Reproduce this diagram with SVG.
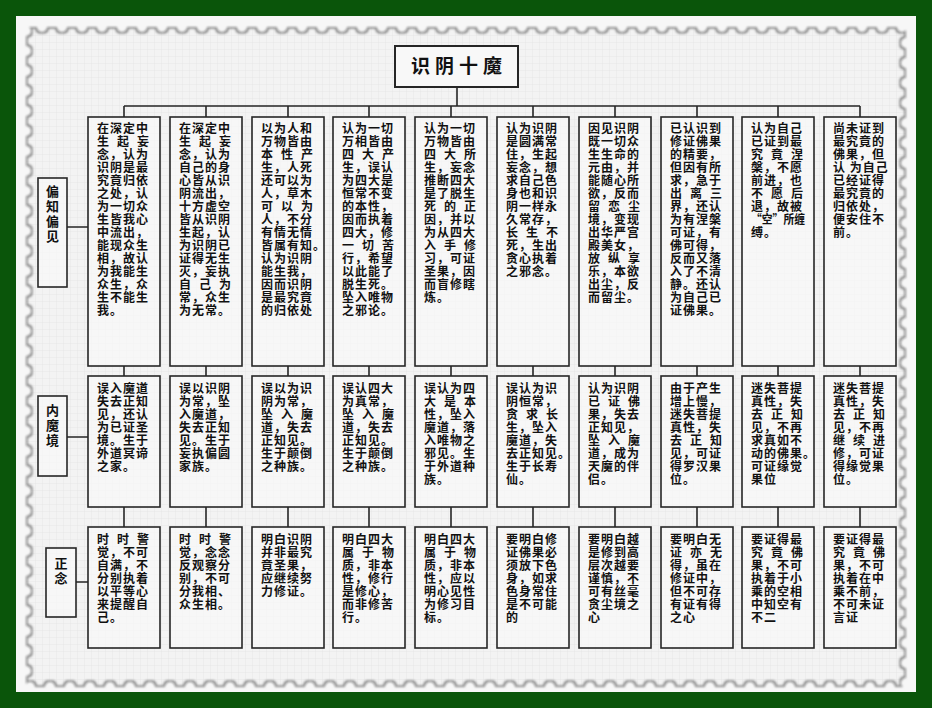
<svg xmlns="http://www.w3.org/2000/svg" width="932" height="708" viewBox="0 0 932 708">
<defs>
<pattern id="grid" width="7" height="7" patternUnits="userSpaceOnUse">
<rect width="7" height="7" fill="#f3f3f3"/>
<path d="M7 0H0V7" fill="none" stroke="#e1e1e1" stroke-width="0.7"/>
</pattern>
<mask id="notch" maskUnits="userSpaceOnUse" x="0" y="0" width="932" height="708">
<rect x="26" y="27" width="880" height="660" fill="#fff"/>
<rect x="26" y="27" width="880" height="660" fill="none" stroke="#000" stroke-width="10" stroke-linecap="round" stroke-dasharray="0 20" stroke-dashoffset="4"/>
</mask>
<filter id="edge" x="0" y="0" width="932" height="708" filterUnits="userSpaceOnUse">
<feMorphology in="SourceAlpha" operator="erode" radius="2" result="er"/>
<feComposite in="SourceAlpha" in2="er" operator="out" result="ring"/>
<feFlood flood-color="#8a8a8a"/>
<feComposite in2="ring" operator="in" result="gray"/>
<feGaussianBlur in="gray" stdDeviation="1" result="gb"/>
<feMerge><feMergeNode in="SourceGraphic"/><feMergeNode in="gb"/></feMerge>
</filter>
</defs>
<style>
.box{fill:#f8f8f8;fill-opacity:.7;stroke:#262626;stroke-width:1.6}
.ln{fill:none;stroke:#262626;stroke-width:1.6}
.t{font-family:"Noto Sans CJK SC","Noto Sans",sans-serif;font-size:12px;font-weight:700;fill:#111;letter-spacing:1px}
.s{letter-spacing:0}
.lb{font-family:"Noto Sans CJK SC","Noto Sans",sans-serif;font-size:13px;font-weight:700;fill:#111;text-anchor:middle}
</style>
<rect width="932" height="708" fill="#0a550a"/>
<rect x="16" y="16" width="900" height="676" fill="#f7f7f7"/>
<g filter="url(#edge)"><rect x="26" y="27" width="880" height="660" fill="url(#grid)" mask="url(#notch)"/></g>

<g id="connectors">
<path class="ln" d="M457 87V106M124 106H860M124 106V117M206 106V117M288 106V117M369 106V117M451 106V117M533 106V117M615 106V117M697 106V117M778 106V117M860 106V117"/>
<path class="ln" d="M124 366V376M206 366V376M288 366V376M369 366V376M451 366V376M533 366V376M615 366V376M697 366V376M778 366V376M860 366V376"/>
<path class="ln" d="M124 507V527M206 507V527M288 507V527M369 507V527M451 507V527M533 507V527M615 507V527M697 507V527M778 507V527M860 507V527"/>
<path class="ln" d="M67 227H88M67 437H88M76 582H88"/>
</g>

<g id="title">
<rect x="395" y="46" width="123" height="41" fill="#f8f8f8" stroke="#262626" stroke-width="2"/>
<text x="459" y="73" text-anchor="middle" font-family="'Noto Sans CJK SC',sans-serif" font-size="19" font-weight="700" letter-spacing="5" fill="#111">识阴十魔</text>
</g>

<g id="label-1">
<rect class="box" x="38" y="178" width="29" height="109"/>
<text class="lb"><tspan x="52.5" y="196">偏</tspan><tspan x="52.5" y="211">知</tspan><tspan x="52.5" y="226">偏</tspan><tspan x="52.5" y="241">见</tspan></text>
</g>
<g id="label-2">
<rect class="box" x="38" y="396" width="29" height="80"/>
<text class="lb"><tspan x="52.5" y="415">内</tspan><tspan x="52.5" y="430">魔</tspan><tspan x="52.5" y="445">境</tspan></text>
</g>
<g id="label-3">
<rect class="box" x="46" y="548" width="30" height="69"/>
<text class="lb"><tspan x="61" y="568">正</tspan><tspan x="61" y="583">念</tspan></text>
</g>

<!-- top row -->
<g id="c1-top"><rect class="box" x="88" y="117" width="72" height="249"/>
<text class="t"><tspan x="97" y="133">在深定中</tspan><tspan x="97" dy="13" class="s" textLength="52" lengthAdjust="spacing">生起妄</tspan><tspan x="97" dy="13">念，认为</tspan><tspan x="97" dy="13">识阴是最</tspan><tspan x="97" dy="13">究竟归依</tspan><tspan x="97" dy="13">之处，认</tspan><tspan x="97" dy="13">为一切众</tspan><tspan x="97" dy="13">生皆我心</tspan><tspan x="97" dy="13">中流出，</tspan><tspan x="97" dy="13">能现众生</tspan><tspan x="97" dy="13">相，故认</tspan><tspan x="97" dy="13">为我能生</tspan><tspan x="97" dy="13">众生，众</tspan><tspan x="97" dy="13">生不能生</tspan><tspan x="97" dy="13">我。</tspan></text></g>
<g id="c2-top"><rect class="box" x="170" y="117" width="72" height="249"/>
<text class="t"><tspan x="179" y="133">在深定中</tspan><tspan x="179" dy="13" class="s" textLength="52" lengthAdjust="spacing">生起妄</tspan><tspan x="179" dy="13">念，认为</tspan><tspan x="179" dy="13">自己的身</tspan><tspan x="179" dy="13">心皆从识</tspan><tspan x="179" dy="13">阴流出，</tspan><tspan x="179" dy="13">十方虚空</tspan><tspan x="179" dy="13">皆从识阴</tspan><tspan x="179" dy="13">生起，认</tspan><tspan x="179" dy="13">为识阴已</tspan><tspan x="179" dy="13">证得无生</tspan><tspan x="179" dy="13">灭，妄执</tspan><tspan x="179" dy="13" class="s" textLength="52" lengthAdjust="spacing">自己为</tspan><tspan x="179" dy="13">常，众生</tspan><tspan x="179" dy="13">为无常。</tspan></text></g>
<g id="c3-top"><rect class="box" x="252" y="117" width="72" height="249"/>
<text class="t"><tspan x="261" y="133">以为人和</tspan><tspan x="261" dy="13">万物皆由</tspan><tspan x="261" dy="13" class="s" textLength="52" lengthAdjust="spacing">本性产</tspan><tspan x="261" dy="13">生，人死</tspan><tspan x="261" dy="13">还可以为</tspan><tspan x="261" dy="13">人，草木</tspan><tspan x="261" dy="13" class="s" textLength="52" lengthAdjust="spacing">可以为</tspan><tspan x="261" dy="13">人，不分</tspan><tspan x="261" dy="13">有情无情</tspan><tspan x="261" dy="13">皆属有知。</tspan><tspan x="261" dy="13">认为识阴</tspan><tspan x="261" dy="13">能生我，</tspan><tspan x="261" dy="13">因而识阴</tspan><tspan x="261" dy="13">是最究竟</tspan><tspan x="261" dy="13">的归依处</tspan></text></g>
<g id="c4-top"><rect class="box" x="333" y="117" width="72" height="249"/>
<text class="t"><tspan x="342" y="133">认为一切</tspan><tspan x="342" dy="13">万相皆由</tspan><tspan x="342" dy="13" class="s" textLength="52" lengthAdjust="spacing">四大产</tspan><tspan x="342" dy="13">生，误认</tspan><tspan x="342" dy="13">为四大是</tspan><tspan x="342" dy="13">恒常不变</tspan><tspan x="342" dy="13">的本性，</tspan><tspan x="342" dy="13">因而执着</tspan><tspan x="342" dy="13">四大，修</tspan><tspan x="342" dy="13" class="s" textLength="52" lengthAdjust="spacing">一切苦</tspan><tspan x="342" dy="13">行，希望</tspan><tspan x="342" dy="13">以此能了</tspan><tspan x="342" dy="13">脱生死。</tspan><tspan x="342" dy="13">坠入唯物</tspan><tspan x="342" dy="13">之邪论。</tspan></text></g>
<g id="c5-top"><rect class="box" x="415" y="117" width="72" height="249"/>
<text class="t"><tspan x="424" y="133">认为一切</tspan><tspan x="424" dy="13">万物皆由</tspan><tspan x="424" dy="13" class="s" textLength="52" lengthAdjust="spacing">四大所</tspan><tspan x="424" dy="13">生，妄念</tspan><tspan x="424" dy="13">推断四大</tspan><tspan x="424" dy="13">是了脱生</tspan><tspan x="424" dy="13" class="s" textLength="52" lengthAdjust="spacing">死的正</tspan><tspan x="424" dy="13">因，并以</tspan><tspan x="424" dy="13">为从四大</tspan><tspan x="424" dy="13" class="s" textLength="52" lengthAdjust="spacing">入手修</tspan><tspan x="424" dy="13">习，可证</tspan><tspan x="424" dy="13">圣果，因</tspan><tspan x="424" dy="13">而盲修瞎</tspan><tspan x="424" dy="13">炼。</tspan></text></g>
<g id="c6-top"><rect class="box" x="497" y="117" width="72" height="249"/>
<text class="t"><tspan x="506" y="133">认为识阴</tspan><tspan x="506" dy="13">是圆满常</tspan><tspan x="506" dy="13">住，生起</tspan><tspan x="506" dy="13">妄念，想</tspan><tspan x="506" dy="13">求自己色</tspan><tspan x="506" dy="13">身也和识</tspan><tspan x="506" dy="13">阴一样永</tspan><tspan x="506" dy="13">久常存，</tspan><tspan x="506" dy="13" class="s" textLength="52" lengthAdjust="spacing">长生不</tspan><tspan x="506" dy="13">死，生出</tspan><tspan x="506" dy="13">贪心执着</tspan><tspan x="506" dy="13">之邪念。</tspan></text></g>
<g id="c7-top"><rect class="box" x="579" y="117" width="72" height="249"/>
<text class="t"><tspan x="588" y="133">因见识阴</tspan><tspan x="588" dy="13">既一切众</tspan><tspan x="588" dy="13">生生命的</tspan><tspan x="588" dy="13">元由，并</tspan><tspan x="588" dy="13">能随心所</tspan><tspan x="588" dy="13">欲，反而</tspan><tspan x="588" dy="13" class="s" textLength="52" lengthAdjust="spacing">留恋尘</tspan><tspan x="588" dy="13">境，变现</tspan><tspan x="588" dy="13">出华严宫</tspan><tspan x="588" dy="13">殿美女，</tspan><tspan x="588" dy="13" class="s" textLength="52" lengthAdjust="spacing">放纵享</tspan><tspan x="588" dy="13">乐，本欲</tspan><tspan x="588" dy="13">出尘，反</tspan><tspan x="588" dy="13">而留尘。</tspan></text></g>
<g id="c8-top"><rect class="box" x="661" y="117" width="72" height="249"/>
<text class="t"><tspan x="670" y="133">已认识到</tspan><tspan x="670" dy="13">修证佛果</tspan><tspan x="670" dy="13">的精要，</tspan><tspan x="670" dy="13">但因有所</tspan><tspan x="670" dy="13">求，急于</tspan><tspan x="670" dy="13" class="s" textLength="52" lengthAdjust="spacing">出离三</tspan><tspan x="670" dy="13">界，还认</tspan><tspan x="670" dy="13">为有涅槃</tspan><tspan x="670" dy="13">可证，有</tspan><tspan x="670" dy="13">佛可得，</tspan><tspan x="670" dy="13">反而又落</tspan><tspan x="670" dy="13">入了不清</tspan><tspan x="670" dy="13">静。还认</tspan><tspan x="670" dy="13">为自己已</tspan><tspan x="670" dy="13">证佛果。</tspan></text></g>
<g id="c9-top"><rect class="box" x="742" y="117" width="72" height="249"/>
<text class="t"><tspan x="751" y="133">认为自己</tspan><tspan x="751" dy="13">已证到最</tspan><tspan x="751" dy="13" class="s" textLength="52" lengthAdjust="spacing">究竟涅</tspan><tspan x="751" dy="13">槃，不愿</tspan><tspan x="751" dy="13">前进，也</tspan><tspan x="751" dy="13" class="s" textLength="52" lengthAdjust="spacing">不愿后</tspan><tspan x="751" dy="13">退，故被</tspan><tspan x="751" dy="13" class="s" textLength="54" lengthAdjust="spacingAndGlyphs">“空”所缠</tspan><tspan x="751" dy="13">缚。</tspan></text></g>
<g id="c10-top"><rect class="box" x="824" y="117" width="72" height="249"/>
<text class="t"><tspan x="833" y="133">尚未证到</tspan><tspan x="833" dy="13">最究竟的</tspan><tspan x="833" dy="13">佛果，但</tspan><tspan x="833" dy="13">认 为自己</tspan><tspan x="833" dy="13">已经证得</tspan><tspan x="833" dy="13">最究竟的</tspan><tspan x="833" dy="13">归依处，</tspan><tspan x="833" dy="13">便安住不</tspan><tspan x="833" dy="13">前。</tspan></text></g>

<!-- middle row -->
<g id="c1-mid"><rect class="box" x="88" y="376" width="72" height="131"/>
<text class="t"><tspan x="97" y="393">误入魔道</tspan><tspan x="97" dy="13">失去正知</tspan><tspan x="97" dy="13">见，还认</tspan><tspan x="97" dy="13">为已证圣</tspan><tspan x="97" dy="13">境。生于</tspan><tspan x="97" dy="13">外道冥谛</tspan><tspan x="97" dy="13">之家。</tspan></text></g>
<g id="c2-mid"><rect class="box" x="170" y="376" width="72" height="131"/>
<text class="t"><tspan x="179" y="393">误以识阴</tspan><tspan x="179" dy="13">为常，坠</tspan><tspan x="179" dy="13">入魔道，</tspan><tspan x="179" dy="13">失去正知</tspan><tspan x="179" dy="13">见。生于</tspan><tspan x="179" dy="13">妄执偏圆</tspan><tspan x="179" dy="13">家族。</tspan></text></g>
<g id="c3-mid"><rect class="box" x="252" y="376" width="72" height="131"/>
<text class="t"><tspan x="261" y="393">误以为识</tspan><tspan x="261" dy="13">阴为常，</tspan><tspan x="261" dy="13" class="s" textLength="52" lengthAdjust="spacing">坠入魔</tspan><tspan x="261" dy="13">道，失去</tspan><tspan x="261" dy="13">正知见。</tspan><tspan x="261" dy="13">生于颠倒</tspan><tspan x="261" dy="13">之种族。</tspan></text></g>
<g id="c4-mid"><rect class="box" x="333" y="376" width="72" height="131"/>
<text class="t"><tspan x="342" y="393">误认四大</tspan><tspan x="342" dy="13">为真常，</tspan><tspan x="342" dy="13" class="s" textLength="52" lengthAdjust="spacing">坠入魔</tspan><tspan x="342" dy="13">道，失去</tspan><tspan x="342" dy="13">正知见。</tspan><tspan x="342" dy="13">生于颠倒</tspan><tspan x="342" dy="13">之种族。</tspan></text></g>
<g id="c5-mid"><rect class="box" x="415" y="376" width="72" height="131"/>
<text class="t"><tspan x="424" y="393">误认为四</tspan><tspan x="424" dy="13" class="s" textLength="52" lengthAdjust="spacing">大是本</tspan><tspan x="424" dy="13">性，坠入</tspan><tspan x="424" dy="13">魔道，落</tspan><tspan x="424" dy="13">入唯物之</tspan><tspan x="424" dy="13">邪见。生</tspan><tspan x="424" dy="13">于外道种</tspan><tspan x="424" dy="13">族。</tspan></text></g>
<g id="c6-mid"><rect class="box" x="497" y="376" width="72" height="131"/>
<text class="t"><tspan x="506" y="393">误认为识</tspan><tspan x="506" dy="13">阴恒常，</tspan><tspan x="506" dy="13" class="s" textLength="52" lengthAdjust="spacing">贪求长</tspan><tspan x="506" dy="13">生，坠入</tspan><tspan x="506" dy="13">魔道，失</tspan><tspan x="506" dy="13">去正知见。</tspan><tspan x="506" dy="13">生于长寿</tspan><tspan x="506" dy="13">仙。</tspan></text></g>
<g id="c7-mid"><rect class="box" x="579" y="376" width="72" height="131"/>
<text class="t"><tspan x="588" y="393">认为识阴</tspan><tspan x="588" dy="13" class="s" textLength="52" lengthAdjust="spacing">已证佛</tspan><tspan x="588" dy="13">果，失去</tspan><tspan x="588" dy="13">正知见，</tspan><tspan x="588" dy="13" class="s" textLength="52" lengthAdjust="spacing">坠入魔</tspan><tspan x="588" dy="13">道，成为</tspan><tspan x="588" dy="13">天魔的伴</tspan><tspan x="588" dy="13">侣。</tspan></text></g>
<g id="c8-mid"><rect class="box" x="661" y="376" width="72" height="131"/>
<text class="t"><tspan x="670" y="393">由于产生</tspan><tspan x="670" dy="13">增上慢，</tspan><tspan x="670" dy="13">迷失菩提</tspan><tspan x="670" dy="13">真性，失</tspan><tspan x="670" dy="13" class="s" textLength="52" lengthAdjust="spacing">去正知</tspan><tspan x="670" dy="13">见，可证</tspan><tspan x="670" dy="13">得罗汉果</tspan><tspan x="670" dy="13">位。</tspan></text></g>
<g id="c9-mid"><rect class="box" x="742" y="376" width="72" height="131"/>
<text class="t"><tspan x="751" y="393">迷失菩提</tspan><tspan x="751" dy="13">真性，失</tspan><tspan x="751" dy="13" class="s" textLength="52" lengthAdjust="spacing">去正知</tspan><tspan x="751" dy="13">见，不再</tspan><tspan x="751" dy="13">求真如不</tspan><tspan x="751" dy="13">动的佛果。</tspan><tspan x="751" dy="13">可证缘觉</tspan><tspan x="751" dy="13">果位</tspan></text></g>
<g id="c10-mid"><rect class="box" x="824" y="376" width="72" height="131"/>
<text class="t"><tspan x="833" y="393">迷失菩提</tspan><tspan x="833" dy="13">真性，失</tspan><tspan x="833" dy="13" class="s" textLength="52" lengthAdjust="spacing">去正知</tspan><tspan x="833" dy="13">见，不再</tspan><tspan x="833" dy="13" class="s" textLength="52" lengthAdjust="spacing">继续进</tspan><tspan x="833" dy="13">修，可证</tspan><tspan x="833" dy="13">得缘觉果</tspan><tspan x="833" dy="13">位。</tspan></text></g>

<!-- bottom row -->
<g id="c1-bot"><rect class="box" x="88" y="527" width="72" height="121"/>
<text class="t"><tspan x="97" y="544" class="s" textLength="52" lengthAdjust="spacing">时时警</tspan><tspan x="97" dy="13">觉，不可</tspan><tspan x="97" dy="13">自满，不</tspan><tspan x="97" dy="13">分别执着</tspan><tspan x="97" dy="13">以平等心</tspan><tspan x="97" dy="13">来提醒自</tspan><tspan x="97" dy="13">己。</tspan></text></g>
<g id="c2-bot"><rect class="box" x="170" y="527" width="72" height="121"/>
<text class="t"><tspan x="179" y="544" class="s" textLength="52" lengthAdjust="spacing">时时警</tspan><tspan x="179" dy="13">觉，念念</tspan><tspan x="179" dy="13">反观察分</tspan><tspan x="179" dy="13">别，不可</tspan><tspan x="179" dy="13">分我相、</tspan><tspan x="179" dy="13">众生相。</tspan></text></g>
<g id="c3-bot"><rect class="box" x="252" y="527" width="72" height="121"/>
<text class="t"><tspan x="261" y="544">明白识阴</tspan><tspan x="261" dy="13">并非最究</tspan><tspan x="261" dy="13">竟圣果，</tspan><tspan x="261" dy="13">应继续努</tspan><tspan x="261" dy="13">力修证。</tspan></text></g>
<g id="c4-bot"><rect class="box" x="333" y="527" width="72" height="121"/>
<text class="t"><tspan x="342" y="544">明白四大</tspan><tspan x="342" dy="13" class="s" textLength="52" lengthAdjust="spacing">属于物</tspan><tspan x="342" dy="13">质，非本</tspan><tspan x="342" dy="13">性，修行</tspan><tspan x="342" dy="13">是修心，</tspan><tspan x="342" dy="13">而非修苦</tspan><tspan x="342" dy="13">行。</tspan></text></g>
<g id="c5-bot"><rect class="box" x="415" y="527" width="72" height="121"/>
<text class="t"><tspan x="424" y="544">明白四大</tspan><tspan x="424" dy="13" class="s" textLength="52" lengthAdjust="spacing">属于物</tspan><tspan x="424" dy="13">质，非本</tspan><tspan x="424" dy="13">性，应以</tspan><tspan x="424" dy="13">明心见性</tspan><tspan x="424" dy="13">为修习目</tspan><tspan x="424" dy="13">标。</tspan></text></g>
<g id="c6-bot"><rect class="box" x="497" y="527" width="72" height="121"/>
<text class="t"><tspan x="506" y="544">要明白修</tspan><tspan x="506" dy="13">证佛果必</tspan><tspan x="506" dy="13">须放下色</tspan><tspan x="506" dy="13">身，如求</tspan><tspan x="506" dy="13">色身常住</tspan><tspan x="506" dy="13">是不可能</tspan><tspan x="506" dy="13">的</tspan></text></g>
<g id="c7-bot"><rect class="box" x="579" y="527" width="72" height="121"/>
<text class="t"><tspan x="588" y="544">要明白越</tspan><tspan x="588" dy="13">是修到高</tspan><tspan x="588" dy="13">层次越要</tspan><tspan x="588" dy="13">谨慎，不</tspan><tspan x="588" dy="13">可有丝毫</tspan><tspan x="588" dy="13">贪尘境之</tspan><tspan x="588" dy="13">心</tspan></text></g>
<g id="c8-bot"><rect class="box" x="661" y="527" width="72" height="121"/>
<text class="t"><tspan x="670" y="544">要明白无</tspan><tspan x="670" dy="13" class="s" textLength="52" lengthAdjust="spacing">证亦无</tspan><tspan x="670" dy="13">得，虽在</tspan><tspan x="670" dy="13">修证中，</tspan><tspan x="670" dy="13">但不可存</tspan><tspan x="670" dy="13">有证有得</tspan><tspan x="670" dy="13">之心</tspan></text></g>
<g id="c9-bot"><rect class="box" x="742" y="527" width="72" height="121"/>
<text class="t"><tspan x="751" y="544">要证得最</tspan><tspan x="751" dy="13" class="s" textLength="52" lengthAdjust="spacing">究竟佛</tspan><tspan x="751" dy="13">果，不可</tspan><tspan x="751" dy="13">执着于小</tspan><tspan x="751" dy="13">乘的空相</tspan><tspan x="751" dy="13">中知空有</tspan><tspan x="751" dy="13">不二</tspan></text></g>
<g id="c10-bot"><rect class="box" x="824" y="527" width="72" height="121"/>
<text class="t"><tspan x="833" y="544">要证得最</tspan><tspan x="833" dy="13" class="s" textLength="52" lengthAdjust="spacing">究竟佛</tspan><tspan x="833" dy="13">果，不可</tspan><tspan x="833" dy="13">执着在中</tspan><tspan x="833" dy="13">乘不前，</tspan><tspan x="833" dy="13">不可未证</tspan><tspan x="833" dy="13">言证</tspan></text></g>
</svg>
